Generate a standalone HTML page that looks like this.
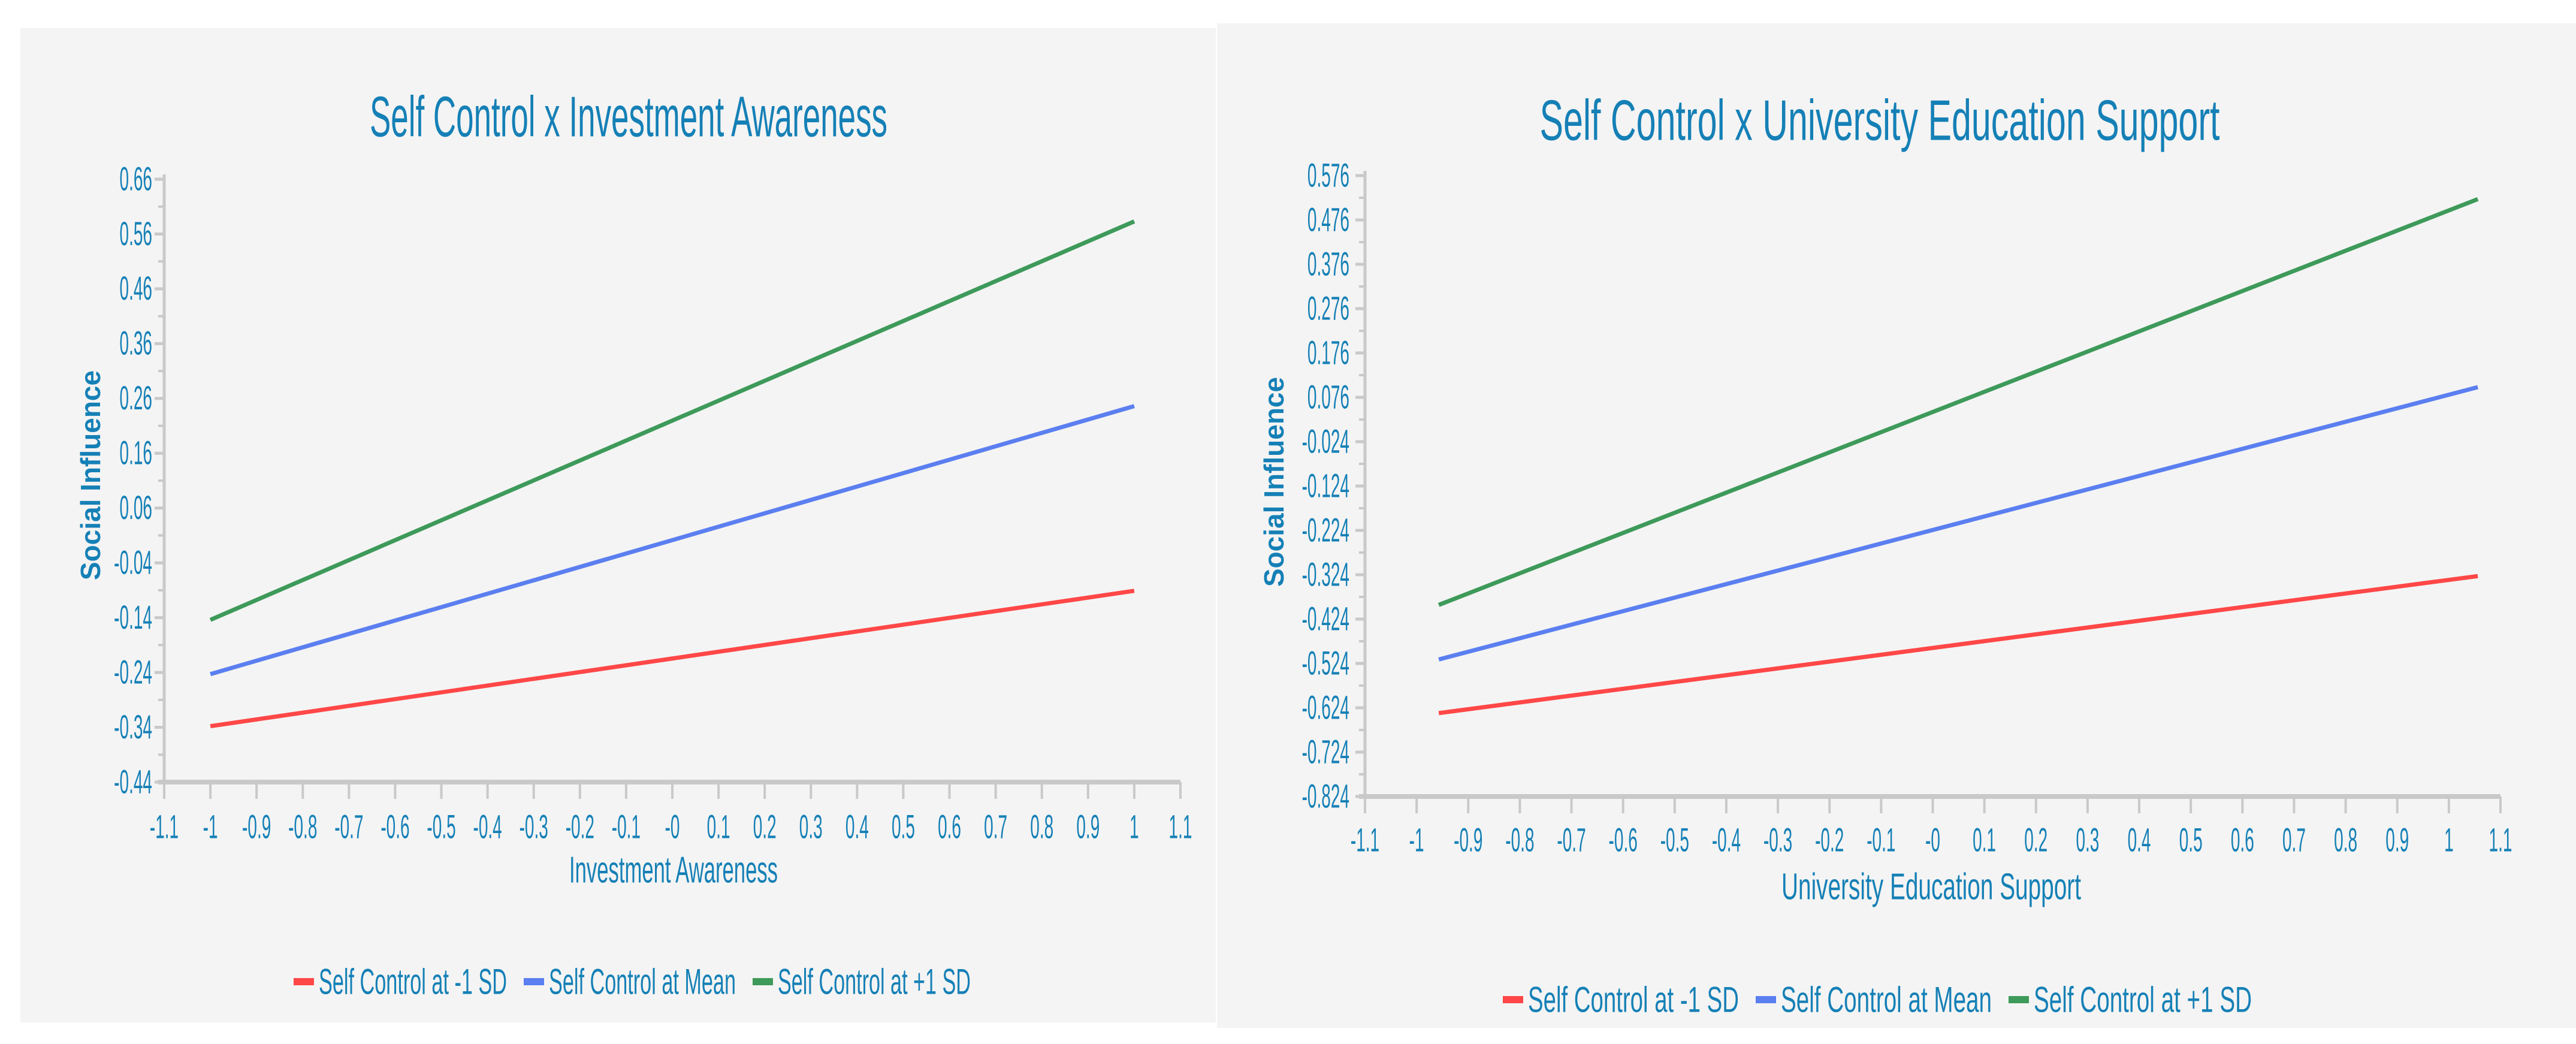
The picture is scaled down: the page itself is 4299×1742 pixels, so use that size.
<!DOCTYPE html>
<html><head><meta charset="utf-8"><style>
html,body{margin:0;padding:0;background:#fff;}
svg{display:block;}
text{font-family:"Liberation Sans",sans-serif;fill:#1580b6;}
</style></head><body>
<svg id="s" width="4299" height="1742" viewBox="0 0 4299 1742">
<rect x="0" y="0" width="4299" height="1742" fill="#fff"/>
<rect x="34" y="47" width="1995" height="1659" fill="#f4f4f4"/>
<rect x="2031" y="39" width="2268" height="1676" fill="#f4f4f4"/>
</svg>
<script>
// Left chart data
const leftXTicks = ["-1.1","-1","-0.9","-0.8","-0.7","-0.6","-0.5","-0.4","-0.3","-0.2","-0.1","-0","0.1","0.2","0.3","0.4","0.5","0.6","0.7","0.8","0.9","1","1.1"];
const leftYTicks = ["0.66","0.56","0.46","0.36","0.26","0.16","0.06","-0.04","-0.14","-0.24","-0.34","-0.44"];
const leftX = [-1, 1];
const leftLow = [-0.338, -0.091];
const leftMean = [-0.243, 0.246];
const leftHigh = [-0.144, 0.583];
// Right chart data
const rightXTicks = ["-1.1","-1","-0.9","-0.8","-0.7","-0.6","-0.5","-0.4","-0.3","-0.2","-0.1","-0","0.1","0.2","0.3","0.4","0.5","0.6","0.7","0.8","0.9","1","1.1"];
const rightYTicks = ["0.576","0.476","0.376","0.276","0.176","0.076","-0.024","-0.124","-0.224","-0.324","-0.424","-0.524","-0.624","-0.724","-0.824"];
const rightX = [-0.957, 1.056];
const rightLow = [-0.636, -0.327];
const rightMean = [-0.515, 0.099];
const rightHigh = [-0.392, 0.523];
const seriesNames = ["Self Control at -1 SD","Self Control at Mean","Self Control at +1 SD"];
const seriesColors = ["#ff4747","#5b7ff0","#3e9a5a"];

const svg = document.getElementById('s');
const NS = "http://www.w3.org/2000/svg";
function mk(tag, attrs){const e=document.createElementNS(NS,tag);for(const k in attrs)e.setAttribute(k,attrs[k]);svg.appendChild(e);return e;}
function txt(str,x,y,size,sx,anchor,extra){
  const t=mk('text',{x:x/sx,y:y,'font-size':size,'text-anchor':anchor||'middle','dominant-baseline':'central',transform:'scale('+sx+',1)'});
  if(extra)for(const k in extra)t.setAttribute(k,extra[k]);
  t.textContent=str;return t;
}

function chart(cfg){
  const xs=v=>cfg.x0+(v-cfg.xmin)/(cfg.xmax-cfg.xmin)*(cfg.x1-cfg.x0);
  const ys=v=>cfg.y0+(cfg.ymax-v)/(cfg.ymax-cfg.ymin)*(cfg.y1-cfg.y0);
  let t=txt(cfg.title,cfg.titleX,cfg.titleY,96,1,'middle',{textLength:cfg.titleW,lengthAdjust:'spacingAndGlyphs'});
  
  let a=mk('line',{x1:cfg.x0,y1:cfg.y0-8,x2:cfg.x0,y2:cfg.y1,stroke:'#c9c9c9','stroke-width':5});
  
  a=mk('line',{x1:cfg.x0-10,y1:cfg.y1,x2:cfg.x1,y2:cfg.y1,stroke:'#c9c9c9','stroke-width':8});
  
  cfg.yTicks.forEach((lab,i)=>{
    const v=parseFloat(lab), y=ys(v);
    const tk=mk('line',{x1:cfg.x0-16,y1:y,x2:cfg.x0,y2:y,stroke:'#c9c9c9','stroke-width':5});
    
    if(i<cfg.yTicks.length-1){const ym=ys(v-0.05);
      const mt=mk('line',{x1:cfg.x0-10,y1:ym,x2:cfg.x0,y2:ym,stroke:'#c9c9c9','stroke-width':4});
      }
    const tl=txt(lab,cfg.yLabX,y,56,0.5,'end');
    
  });
  cfg.xTicks.forEach(lab=>{
    const x=xs(parseFloat(lab));
    const tk=mk('line',{x1:x,y1:cfg.y1,x2:x,y2:cfg.y1+28,stroke:'#c9c9c9','stroke-width':4});
    
    const tl=txt(lab,x,cfg.xLabY,56,0.5,'middle');
    
  });
  t=txt(cfg.xTitle,cfg.xTitleX,cfg.xTitleY,62,1,'middle',{textLength:cfg.xTitleW,lengthAdjust:'spacingAndGlyphs'});
  
  t=mk('text',{x:0,y:0,'font-size':46,'font-weight':'bold','text-anchor':'middle','dominant-baseline':'central',transform:'translate('+cfg.yTitleX+','+cfg.yTitleY+') rotate(-90)'});
  t.textContent='Social Influence';
  
  const series=[cfg.low,cfg.mean,cfg.high];
  const keys=['low','mean','high'];
  series.forEach((s,i)=>{
    const pts=cfg.xv.map((xv,j)=>xs(xv)+','+ys(s[j])).join(' ');
    const l=mk('polyline',{points:pts,fill:'none',stroke:seriesColors[i],'stroke-width':7});
    
  });
  let x=cfg.legX;
  const widths=cfg.legW;
  seriesNames.forEach((n,i)=>{
    const r=mk('rect',{x:x,y:cfg.legY-6,width:34,height:12,fill:seriesColors[i]});
    
    const lt=txt(n,x+42,cfg.legY,60,1,'start',{textLength:widths[i],lengthAdjust:'spacingAndGlyphs'});
    
    x+=42+widths[i]+28;
  });
}

chart({p:'left',title:'Self Control x Investment Awareness',titleX:1049,titleY:195,titleW:864,
  x0:274,x1:1970,xmin:-1.1,xmax:1.1,y0:299,y1:1305,ymin:-0.44,ymax:0.66,
  xTicks:leftXTicks,yTicks:leftYTicks,yLabX:254,xLabY:1380,
  xTitle:'Investment Awareness',xTitleX:1124,xTitleY:1452,xTitleW:348,
  yTitleX:151,yTitleY:793,xv:leftX,low:leftLow,mean:leftMean,high:leftHigh,
  legX:490,legY:1638,legW:[314,312,322]});
chart({p:'right',title:'Self Control x University Education Support',titleX:3137,titleY:201,titleW:1135,
  x0:2278,x1:4173,xmin:-1.1,xmax:1.1,y0:293,y1:1329,ymin:-0.824,ymax:0.576,
  xTicks:rightXTicks,yTicks:rightYTicks,yLabX:2252,xLabY:1402,
  xTitle:'University Education Support',xTitleX:3223,xTitleY:1480,xTitleW:500,
  yTitleX:2126,yTitleY:804,xv:rightX,low:rightLow,mean:rightMean,high:rightHigh,
  legX:2508,legY:1668,legW:[352,352,364]});
</script>
</body></html>
